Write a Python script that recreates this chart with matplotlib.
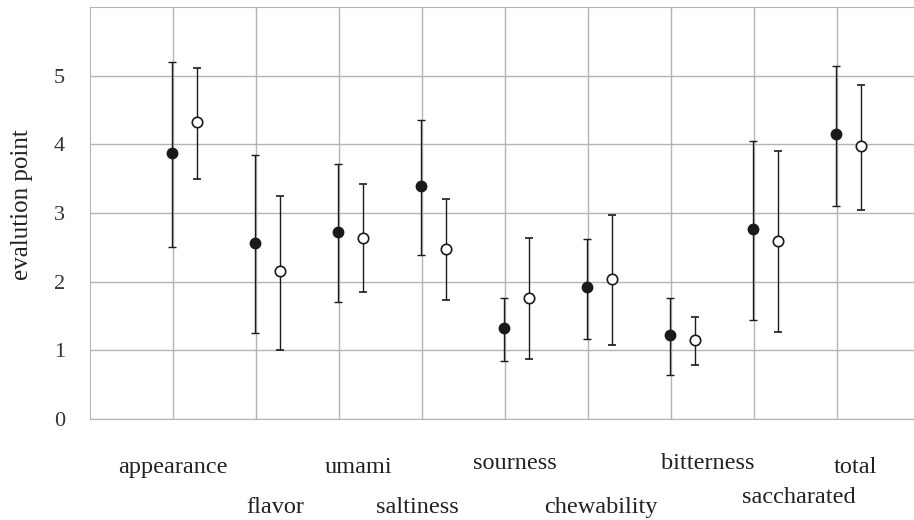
import numpy as np
import matplotlib.pyplot as plt

plt.rcParams['font.family'] = ['Liberation Serif', 'DejaVu Serif']

categories = ['appearance', 'flavor', 'umami', 'saltiness', 'sourness',
              'chewability', 'bitterness', 'saccharated', 'total']

# filled markers
mean_a = [3.87, 2.56, 2.73, 3.39, 1.32, 1.92, 1.22, 2.77, 4.15]
upper_a = [5.20, 3.84, 3.71, 4.35, 1.77, 2.62, 1.76, 4.05, 5.14]
lower_a = [2.50, 1.25, 1.70, 2.39, 0.84, 1.16, 0.64, 1.45, 3.10]

# open markers
mean_b = [4.32, 2.15, 2.64, 2.48, 1.77, 2.04, 1.15, 2.59, 3.97]
upper_b = [5.11, 3.25, 3.42, 3.20, 2.63, 2.97, 1.49, 3.90, 4.87]
lower_b = [3.50, 1.01, 1.85, 1.74, 0.88, 1.08, 0.79, 1.27, 3.05]

# label placement (x shift in category units, row, small y shift)
label_dx = [0.0, 0.23, 0.23, -0.05, 0.12, 0.16, 0.45, 0.54, 0.22]
label_row = [0, 1, 0, 1, 0, 1, 0, 1, 0]
label_dy = [0, 0, 0, 0, 0.05, 0, 0.05, 0.14, 0]

x = np.arange(1, len(categories) + 1)
ma, mb = np.array(mean_a), np.array(mean_b)
err_a = [ma - np.array(lower_a), np.array(upper_a) - ma]
err_b = [mb - np.array(lower_b), np.array(upper_b) - mb]

fig = plt.figure(figsize=(9.14, 5.2), dpi=100)
ax = fig.add_axes([0.0985, 0.194, 0.9015, 0.7925])

ax.errorbar(x - 0.01, ma, yerr=err_a, fmt='o', color='#1a1a1a', ecolor='#1a1a1a',
            markersize=7.5, elinewidth=1.0, capsize=3, capthick=1.0, zorder=3)
ax.errorbar(x + 0.29, mb, yerr=err_b, fmt='o', color='#1a1a1a', ecolor='#1a1a1a',
            markerfacecolor='white', markeredgewidth=1.2,
            markersize=7.5, elinewidth=1.0, capsize=3, capthick=1.0, zorder=3)

ax.set_xlim(0, 9.93)
ax.set_ylim(0, 6)
ax.set_yticks(range(0, 6))
ax.set_xticks(x)
ax.set_xticklabels([])
ax.grid(True, color='#b4b4b4', linewidth=1.0)
ax.set_axisbelow(True)
ax.tick_params(length=0, labelsize=16, pad=18, colors='#333333')
for s in ax.spines.values():
    s.set_color('#b4b4b4')
ax.spines['right'].set_visible(False)

ax.set_ylabel('evalution point', fontsize=18, color='#222222')
ax.yaxis.set_label_coords(-0.069, 0.52)

for xi, name, dx, row, dy in zip(x, categories, label_dx, label_row, label_dy):
    ax.text(xi + dx, -0.70 - 0.58 * row + dy, name, ha='center', va='center',
            fontsize=17.5, color='#222222', clip_on=False)

fig.savefig('out.png', dpi=100)
